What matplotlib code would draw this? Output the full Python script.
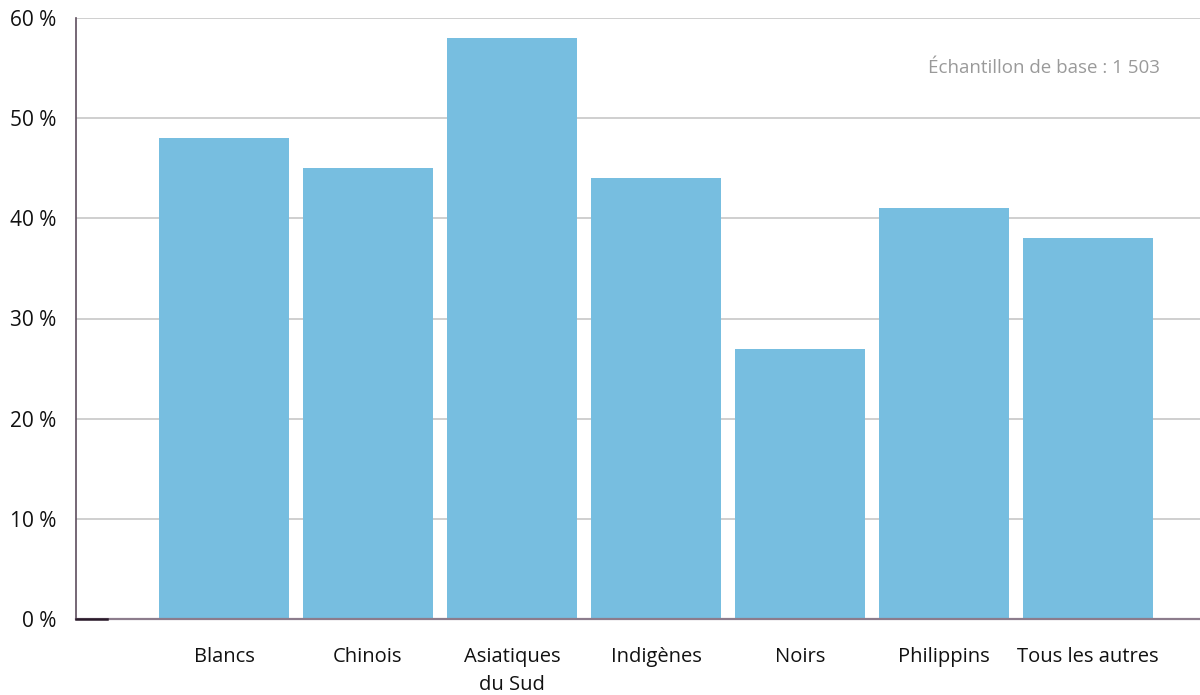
import matplotlib.pyplot as plt

plt.rcParams['font.family'] = ['Open Sans', 'DejaVu Sans']

categories = ['Blancs', 'Chinois', 'Asiatiques\ndu Sud', 'Indigènes', 'Noirs', 'Philippins', 'Tous les autres']
values = [48, 45, 58, 44, 27, 41, 38]
yticks = [0, 10, 20, 30, 40, 50, 60]
note = 'Échantillon de base : 1 503'

fig = plt.figure(figsize=(12, 6.95), dpi=100)
ax = fig.add_axes([76 / 1200, 76 / 695, 1 - 76 / 1200, 601 / 695])

x = list(range(len(categories)))
ax.bar(x, values, width=130 / 144, color='#77bee0', zorder=2)

ax.set_xlim(-148 / 144, 976 / 144)
ax.set_ylim(0, 60)
ax.set_yticks(yticks)
ax.set_yticklabels([f'{t} %' for t in yticks])
ax.set_xticks(x)
ax.set_xticklabels(categories, linespacing=1.55)
ax.tick_params(axis='y', length=0, pad=14, labelsize=15, labelcolor='#111111')
ax.tick_params(axis='x', length=0, pad=20, labelsize=14.5, labelcolor='#111111')

ax.grid(axis='y', color='#cccccc', linewidth=1.3, zorder=0)
ax.set_axisbelow(True)
for side in ('top', 'right'):
    ax.spines[side].set_visible(False)
ax.spines['left'].set_color('#5e4e5e')
ax.spines['left'].set_linewidth(1.2)
ax.spines['bottom'].set_color('#8c7c8c')
ax.spines['bottom'].set_linewidth(1.6)
ax.spines['bottom'].set_zorder(3)
# darker stub at the left end of the baseline
ax.plot([0, 31 / 1124], [0, 0], transform=ax.transAxes, color='#2a1a2a',
        linewidth=1.8, clip_on=False, zorder=4)

ax.text((1160 - 76) / 1124, (619 - 68) / 601, note,
        transform=ax.transAxes, ha='right', va='center', fontsize=13.5, color='#9a9a9a')

fig.savefig('out.png', dpi=100)
